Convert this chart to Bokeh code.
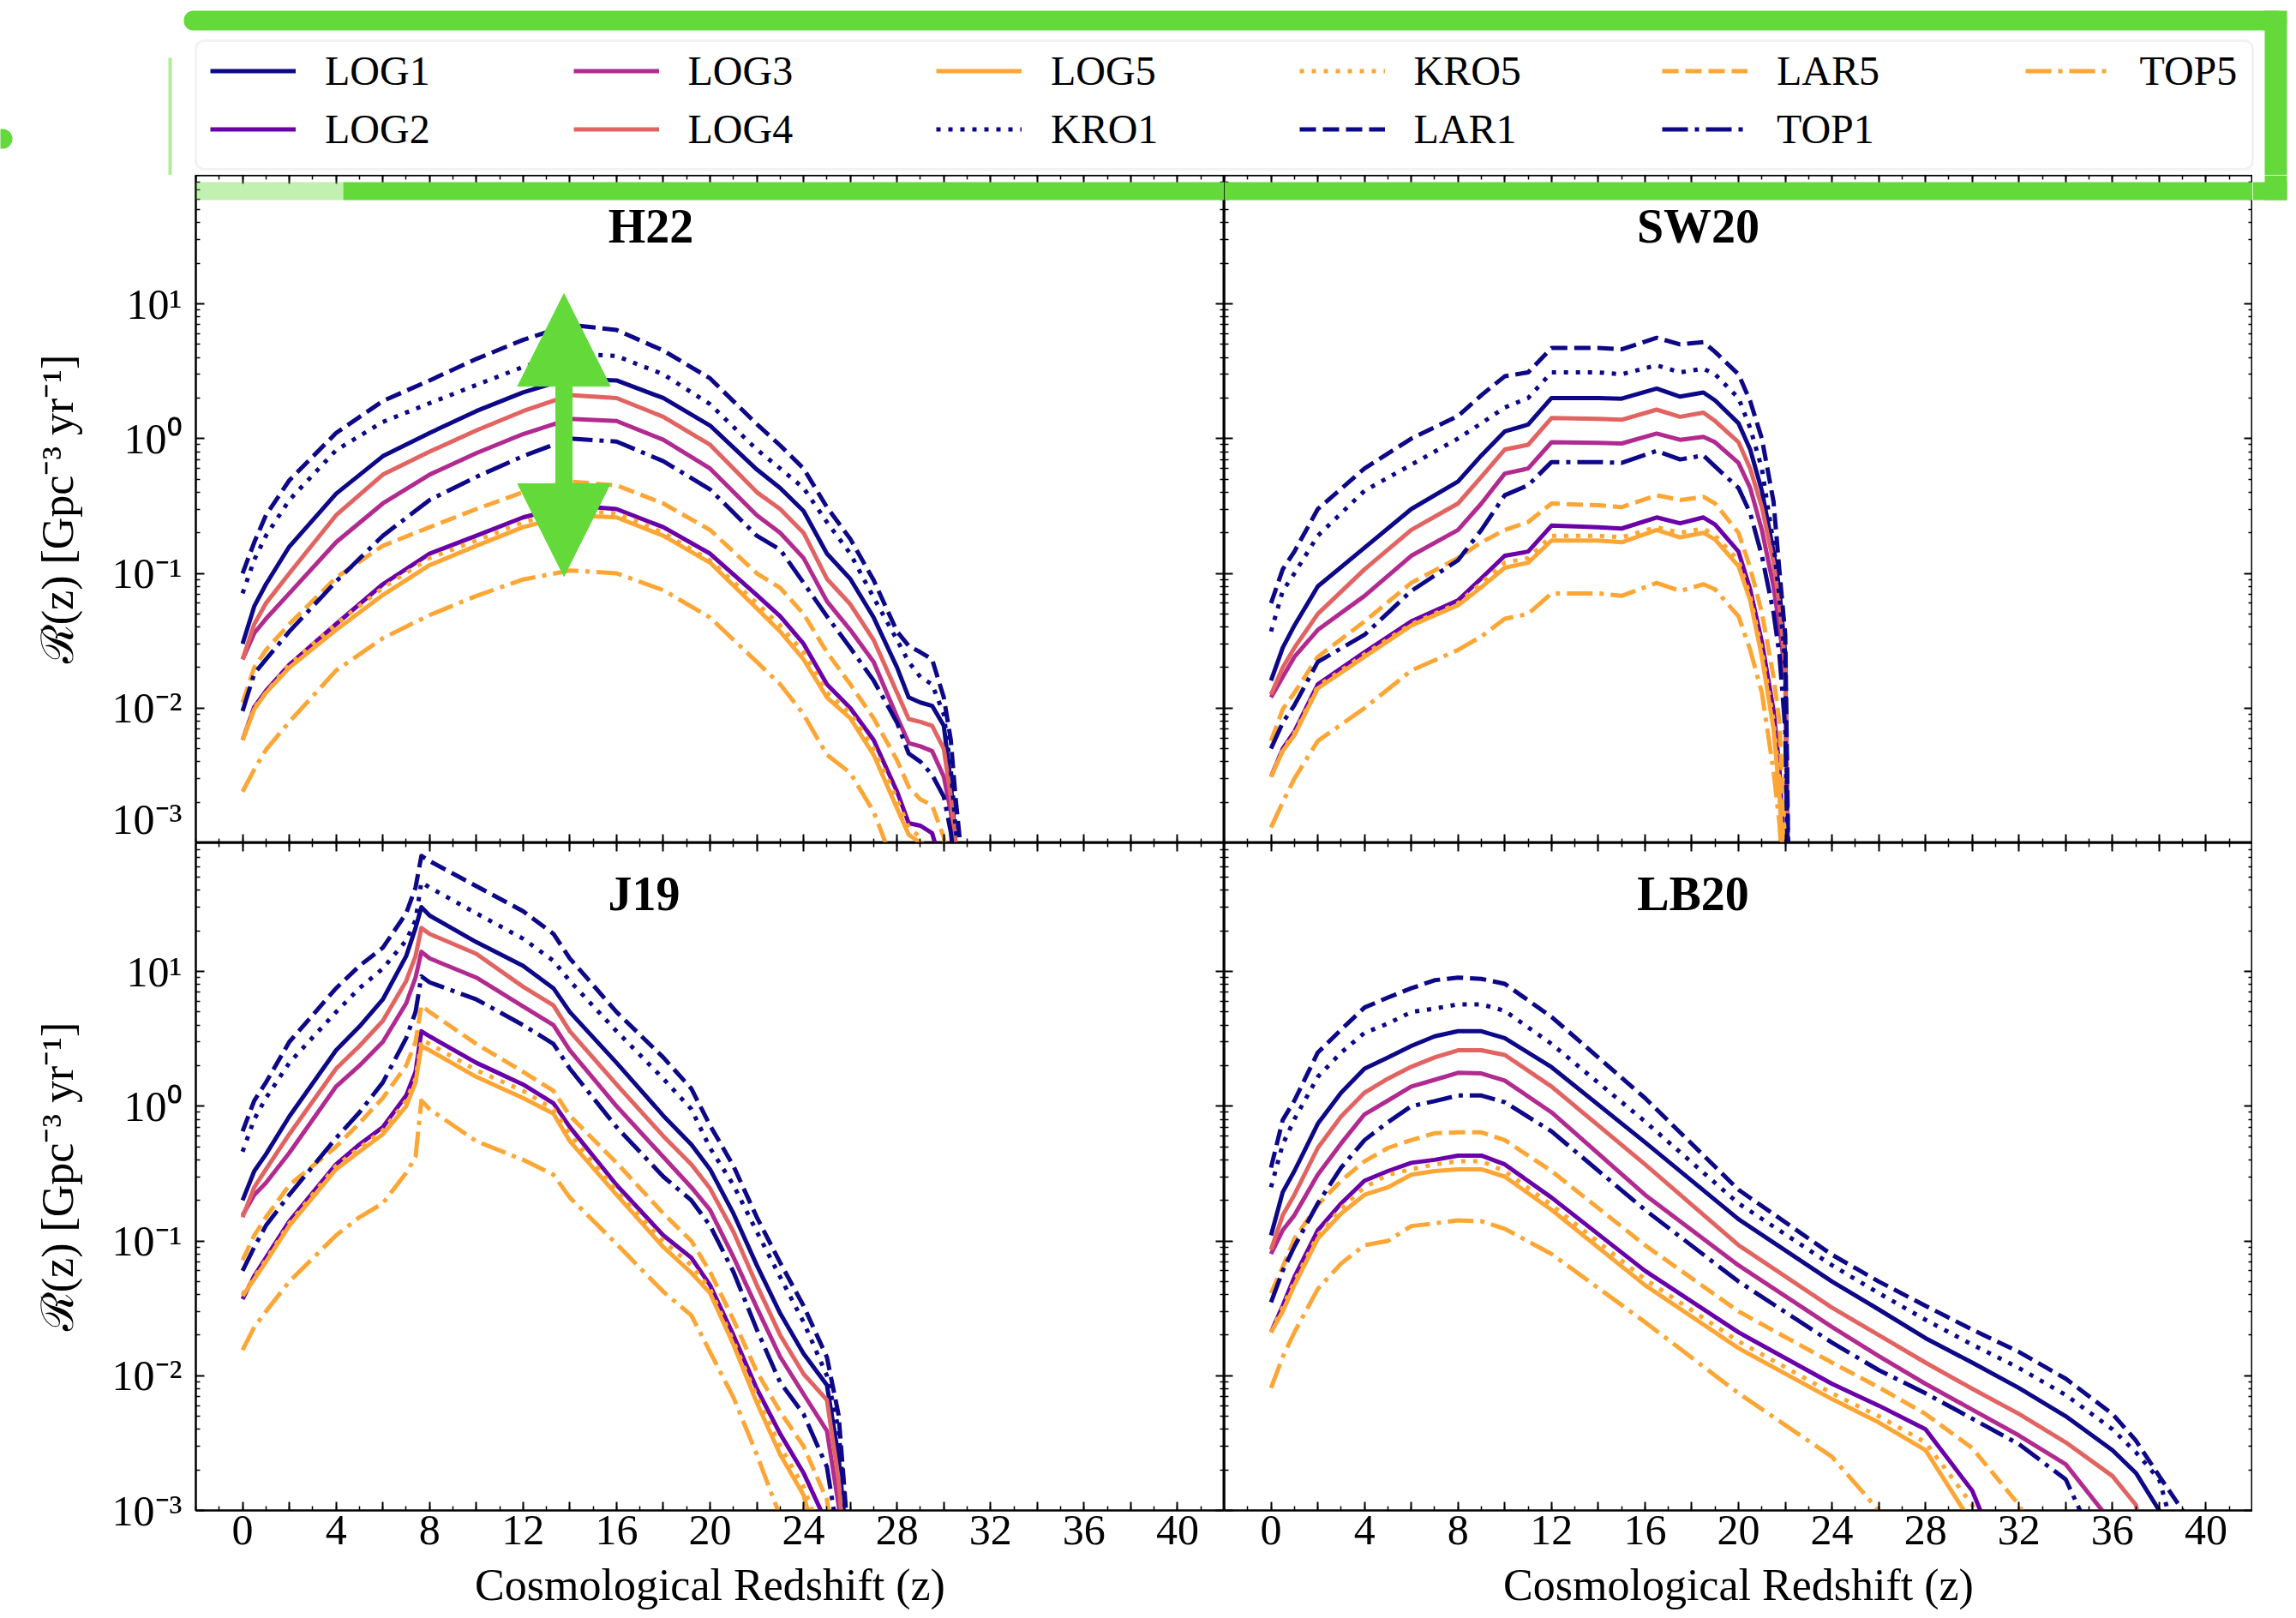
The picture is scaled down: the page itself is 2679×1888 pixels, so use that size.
from bokeh.plotting import figure
from bokeh.layouts import column, row
from bokeh.models import (Range1d, FixedTicker, CustomJSTickFormatter, LinearAxis, LogAxis,
                          Legend, LegendItem, BoxAnnotation, Label, Arrow, NormalHead)
from bokeh.embed import file_html
from bokeh.resources import INLINE

# ---------------------------------------------------------------- data
SERIES = ["LOG1", "LOG2", "LOG3", "LOG4", "LOG5", "KRO1", "KRO5", "LAR1", "LAR5", "TOP1", "TOP5"]

# H22
h22_z = [0, 0.5, 1, 2, 4, 6, 8, 10, 12, 14, 16, 18, 20, 22, 23, 24, 25, 26, 27, 28, 28.5, 29, 29.5, 30, 30.3, 30.5, 30.7, 30.9]
h22_LAR1 = [0.10, 0.17, 0.27, 0.49, 1.1, 1.9, 2.7, 3.9, 5.4, 7.0, 6.4, 4.5, 2.8, 1.28, 0.89, 0.60, 0.31, 0.18, 0.089, 0.037, 0.029, 0.026, 0.023, 0.012, 0.0058, 0.0022, 0.001, 0.0001]
h22_KRO1 = [0.071, 0.126, 0.19, 0.35, 0.82, 1.33, 1.83, 2.5, 3.4, 4.3, 4.1, 3.0, 1.8, 0.83, 0.60, 0.43, 0.24, 0.14, 0.066, 0.032, 0.022, 0.017, 0.015, 0.009, 0.0035, 0.00135, 0.0005, 0.0001]
h22_LOG1 = [0.030, 0.057, 0.083, 0.158, 0.39, 0.74, 1.10, 1.6, 2.2, 2.8, 2.7, 2.0, 1.25, 0.59, 0.43, 0.29, 0.14, 0.091, 0.047, 0.020, 0.012, 0.011, 0.0104, 0.0074, 0.0028, 0.001, 0.0002, 0.0001]
h22_LOG4 = [0.023, 0.042, 0.06, 0.10, 0.27, 0.54, 0.80, 1.15, 1.6, 2.1, 2.0, 1.45, 0.9, 0.40, 0.30, 0.20, 0.091, 0.059, 0.032, 0.013, 0.0083, 0.0079, 0.0074, 0.005, 0.0022, 0.001, 0.0002, 0.0001]
h22_LOG3 = [0.023, 0.036, 0.046, 0.071, 0.17, 0.33, 0.54, 0.78, 1.08, 1.4, 1.35, 0.98, 0.6, 0.27, 0.20, 0.13, 0.062, 0.038, 0.022, 0.0086, 0.0055, 0.0052, 0.0048, 0.0031, 0.0017, 0.0008, 0.0002, 0.0001]
h22_TOP1 = [0.0095, 0.018, 0.023, 0.037, 0.087, 0.19, 0.35, 0.52, 0.74, 1.0, 0.95, 0.68, 0.42, 0.19, 0.15, 0.085, 0.048, 0.028, 0.016, 0.0078, 0.0046, 0.004, 0.0032, 0.0022, 0.0012, 0.0006, 0.0002, 0.0001]
h22_LAR5 = [0.011, 0.020, 0.027, 0.042, 0.093, 0.16, 0.22, 0.30, 0.40, 0.48, 0.45, 0.33, 0.21, 0.10, 0.078, 0.050, 0.026, 0.015, 0.0084, 0.0041, 0.0026, 0.0021, 0.0019, 0.0011, 0.0004, 0.0002, 0.0001, 0.0001]
h22_LOG2 = [0.0058, 0.0102, 0.0134, 0.021, 0.042, 0.083, 0.14, 0.19, 0.26, 0.32, 0.30, 0.22, 0.14, 0.069, 0.048, 0.030, 0.015, 0.010, 0.0058, 0.0024, 0.0014, 0.00134, 0.00118, 0.0006, 0.0002, 0.0001, 0.0001, 0.0001]
h22_KRO5 = [0.0058, 0.010, 0.013, 0.021, 0.042, 0.078, 0.13, 0.175, 0.24, 0.29, 0.28, 0.20, 0.125, 0.060, 0.041, 0.026, 0.013, 0.0092, 0.005, 0.0021, 0.0013, 0.0011, 0.0006, 0.0002, 0.0001, 0.0001, 0.0001, 0.0001]
h22_LOG5 = [0.0058, 0.0098, 0.013, 0.020, 0.038, 0.069, 0.115, 0.16, 0.22, 0.27, 0.26, 0.19, 0.12, 0.055, 0.037, 0.023, 0.012, 0.0084, 0.0045, 0.0018, 0.00115, 0.0010, 0.0003, 0.0001, 0.0001, 0.0001, 0.0001, 0.0001]
h22_TOP5 = [0.0024, 0.0035, 0.0049, 0.0079, 0.019, 0.033, 0.049, 0.068, 0.09, 0.105, 0.10, 0.075, 0.047, 0.022, 0.015, 0.009, 0.0045, 0.0033, 0.0017, 0.0006, 0.0002, 0.0001, 0.0001, 0.0001, 0.0001, 0.0001, 0.0001, 0.0001]

# SW20
sw20_z = [0, 0.5, 1, 2, 4, 6, 8, 9, 10, 11, 12, 14, 15, 16.5, 17.5, 18.5, 19, 20, 20.5, 21, 21.5, 21.75, 22, 22.1, 22.2]
sw20_LAR1 = [0.06, 0.107, 0.145, 0.30, 0.60, 1.0, 1.47, 2.1, 2.9, 3.1, 4.7, 4.7, 4.6, 5.6, 5.0, 5.2, 4.4, 3.0, 1.9, 1.0, 0.34, 0.105, 0.035, 0.002, 0.0001]
sw20_KRO1 = [0.037, 0.074, 0.10, 0.19, 0.41, 0.64, 1.0, 1.3, 1.7, 2.0, 3.1, 3.1, 3.0, 3.5, 3.1, 3.3, 3.0, 2.0, 1.2, 0.60, 0.165, 0.066, 0.021, 0.0015, 0.0001]
sw20_LOG1 = [0.016, 0.028, 0.041, 0.080, 0.155, 0.30, 0.48, 0.75, 1.13, 1.27, 2.0, 2.0, 1.98, 2.35, 2.05, 2.2, 1.92, 1.30, 0.83, 0.41, 0.145, 0.075, 0.025, 0.001, 0.0001]
sw20_LOG4 = [0.0126, 0.020, 0.028, 0.050, 0.107, 0.21, 0.33, 0.52, 0.83, 0.90, 1.42, 1.40, 1.38, 1.64, 1.45, 1.56, 1.35, 0.94, 0.60, 0.31, 0.12, 0.059, 0.021, 0.001, 0.0001]
sw20_LOG3 = [0.012, 0.017, 0.024, 0.038, 0.068, 0.135, 0.21, 0.33, 0.55, 0.60, 0.94, 0.93, 0.92, 1.09, 0.98, 1.03, 0.94, 0.66, 0.43, 0.21, 0.08, 0.04, 0.018, 0.001, 0.0001]
sw20_TOP1 = [0.005, 0.0078, 0.0105, 0.022, 0.035, 0.074, 0.125, 0.21, 0.38, 0.45, 0.67, 0.67, 0.66, 0.81, 0.70, 0.75, 0.62, 0.43, 0.28, 0.135, 0.051, 0.025, 0.007, 0.0008, 0.0001]
sw20_LAR5 = [0.0057, 0.0098, 0.013, 0.024, 0.044, 0.085, 0.13, 0.17, 0.21, 0.24, 0.33, 0.32, 0.31, 0.38, 0.35, 0.37, 0.33, 0.20, 0.11, 0.051, 0.017, 0.0079, 0.0009, 0.0002, 0.0001]
sw20_LOG2 = [0.0031, 0.005, 0.0067, 0.015, 0.026, 0.044, 0.063, 0.092, 0.135, 0.145, 0.226, 0.22, 0.215, 0.26, 0.235, 0.26, 0.23, 0.145, 0.076, 0.031, 0.0096, 0.0036, 0.0006, 0.0001, 0.0001]
sw20_KRO5 = [0.0031, 0.0049, 0.0065, 0.0145, 0.025, 0.042, 0.060, 0.085, 0.12, 0.13, 0.19, 0.19, 0.185, 0.22, 0.20, 0.215, 0.19, 0.125, 0.068, 0.027, 0.008, 0.0029, 0.0005, 0.0001, 0.0001]
sw20_LOG5 = [0.0031, 0.0048, 0.0063, 0.014, 0.024, 0.041, 0.058, 0.079, 0.11, 0.12, 0.175, 0.175, 0.17, 0.21, 0.185, 0.20, 0.178, 0.113, 0.063, 0.024, 0.007, 0.0023, 0.0004, 0.0001, 0.0001]
sw20_TOP5 = [0.0013, 0.002, 0.003, 0.0057, 0.010, 0.019, 0.027, 0.034, 0.046, 0.05, 0.071, 0.071, 0.068, 0.085, 0.074, 0.083, 0.076, 0.048, 0.027, 0.013, 0.0034, 0.0014, 0.0003, 0.0001, 0.0001]

# J19
j19_z = [0, 0.5, 1, 2, 4, 5, 6, 7, 7.4, 7.65, 8, 10, 12, 13.3, 14, 16, 18, 19.2, 20, 21, 22, 23, 24, 25, 25.5, 25.8, 26]
j19_LAR1 = [0.65, 1.1, 1.5, 3.0, 7.5, 11, 15, 27, 42, 72, 66, 43, 28, 19, 12.5, 5.0, 2.3, 1.35, 0.72, 0.36, 0.15, 0.069, 0.033, 0.0137, 0.0051, 0.0011, 0.0001]
j19_KRO1 = [0.46, 0.8, 1.15, 2.1, 5.0, 7.5, 10.5, 17, 24, 46, 42, 27, 17.5, 12, 8.5, 3.6, 1.6, 0.95, 0.49, 0.26, 0.117, 0.054, 0.025, 0.010, 0.004, 0.0009, 0.0001]
j19_LOG1 = [0.20, 0.33, 0.44, 0.84, 2.6, 3.9, 6.2, 13, 21, 30, 26, 16.5, 11, 7.5, 5.0, 2.1, 0.85, 0.52, 0.34, 0.16, 0.066, 0.029, 0.0146, 0.0085, 0.0025, 0.0007, 0.0001]
j19_LOG4 = [0.15, 0.25, 0.34, 0.62, 1.9, 2.8, 4.3, 8.5, 13, 21, 19, 13.5, 7.7, 5.6, 3.6, 1.45, 0.6, 0.37, 0.245, 0.117, 0.047, 0.020, 0.0103, 0.0066, 0.0017, 0.0004, 0.0001]
j19_LOG3 = [0.155, 0.22, 0.27, 0.45, 1.4, 2.0, 3.0, 5.8, 9.0, 14, 12.5, 9.0, 5.5, 4.0, 2.6, 1.0, 0.42, 0.25, 0.17, 0.076, 0.032, 0.0138, 0.0073, 0.0039, 0.0011, 0.0002, 0.0001]
j19_TOP1 = [0.06, 0.09, 0.13, 0.22, 0.58, 0.9, 1.5, 3.2, 5.0, 9.2, 8.3, 6.2, 4.0, 2.9, 1.9, 0.7, 0.3, 0.2, 0.13, 0.059, 0.022, 0.0089, 0.0052, 0.0021, 0.0006, 0.0001, 0.0001]
j19_LAR5 = [0.072, 0.11, 0.15, 0.26, 0.5, 0.75, 1.15, 2.0, 3.0, 5.6, 5.0, 2.9, 1.8, 1.3, 0.85, 0.38, 0.16, 0.1, 0.059, 0.026, 0.0107, 0.0054, 0.003, 0.0012, 0.0003, 0.0001, 0.0001]
j19_LOG2 = [0.037, 0.055, 0.075, 0.14, 0.37, 0.52, 0.7, 1.2, 1.8, 3.6, 3.3, 2.1, 1.45, 1.05, 0.7, 0.26, 0.11, 0.075, 0.047, 0.020, 0.008, 0.0037, 0.0019, 0.0008, 0.0001, 0.0001, 0.0001]
j19_KRO5 = [0.04, 0.054, 0.072, 0.135, 0.36, 0.49, 0.66, 1.1, 1.6, 3.1, 2.9, 1.85, 1.3, 0.95, 0.62, 0.235, 0.1, 0.066, 0.044, 0.018, 0.007, 0.003, 0.0015, 0.0005, 0.0001, 0.0001, 0.0001]
j19_LOG5 = [0.039, 0.052, 0.07, 0.13, 0.34, 0.46, 0.62, 1.0, 1.5, 2.8, 2.6, 1.65, 1.15, 0.88, 0.55, 0.22, 0.09, 0.058, 0.041, 0.017, 0.0063, 0.0026, 0.0013, 0.0003, 0.0001, 0.0001, 0.0001]
j19_TOP5 = [0.0155, 0.023, 0.03, 0.05, 0.11, 0.15, 0.19, 0.32, 0.42, 1.1, 0.95, 0.55, 0.4, 0.31, 0.21, 0.095, 0.042, 0.028, 0.015, 0.0069, 0.0026, 0.0009, 0.0002, 0.0001, 0.0001, 0.0001, 0.0001]

# LB20
lb20_z = [0, 0.5, 1, 2, 3, 4, 5, 6, 7, 8, 9, 10, 12, 16, 20, 24, 26, 28, 30, 32, 34, 36, 37, 38, 39, 40]
lb20_LAR1 = [0.35, 0.79, 1.1, 2.5, 3.7, 5.4, 6.4, 7.5, 8.6, 9.0, 8.8, 8.1, 4.6, 1.15, 0.24, 0.079, 0.05, 0.033, 0.022, 0.015, 0.0095, 0.0052, 0.0033, 0.0018, 0.001, 0.0001]
lb20_KRO1 = [0.25, 0.52, 0.80, 1.65, 2.5, 3.5, 4.1, 5.0, 5.3, 5.7, 5.7, 5.1, 2.9, 0.77, 0.19, 0.066, 0.041, 0.026, 0.017, 0.0114, 0.0072, 0.004, 0.0027, 0.0017, 0.0004, 0.0001]
lb20_LOG1 = [0.11, 0.23, 0.33, 0.74, 1.26, 1.9, 2.3, 2.8, 3.3, 3.6, 3.6, 3.2, 1.95, 0.54, 0.145, 0.05, 0.031, 0.019, 0.0125, 0.0081, 0.005, 0.0028, 0.0019, 0.0010, 0.0002, 0.0001]
lb20_LOG4 = [0.086, 0.155, 0.22, 0.49, 0.84, 1.26, 1.6, 1.96, 2.3, 2.6, 2.6, 2.4, 1.4, 0.37, 0.093, 0.032, 0.02, 0.0125, 0.008, 0.0052, 0.0032, 0.0018, 0.0011, 0.0002, 0.0001, 0.0001]
lb20_LOG3 = [0.08, 0.12, 0.155, 0.31, 0.53, 0.87, 1.1, 1.4, 1.57, 1.77, 1.75, 1.55, 0.9, 0.22, 0.066, 0.023, 0.014, 0.0087, 0.0056, 0.0036, 0.0022, 0.0008, 0.0001, 0.0001, 0.0001, 0.0001]
lb20_TOP1 = [0.035, 0.06, 0.091, 0.19, 0.35, 0.56, 0.76, 1.0, 1.09, 1.2, 1.2, 1.07, 0.65, 0.17, 0.05, 0.0176, 0.011, 0.0074, 0.0048, 0.0031, 0.0017, 0.0003, 0.0001, 0.0001, 0.0001, 0.0001]
lb20_LAR5 = [0.041, 0.064, 0.104, 0.185, 0.28, 0.39, 0.49, 0.56, 0.63, 0.64, 0.64, 0.56, 0.33, 0.093, 0.030, 0.0125, 0.0082, 0.0052, 0.0029, 0.0011, 0.0002, 0.0001, 0.0001, 0.0001, 0.0001, 0.0001]
lb20_LOG2 = [0.021, 0.033, 0.054, 0.12, 0.19, 0.28, 0.33, 0.38, 0.40, 0.43, 0.43, 0.37, 0.21, 0.06, 0.021, 0.0087, 0.006, 0.004, 0.0014, 0.0002, 0.0001, 0.0001, 0.0001, 0.0001, 0.0001, 0.0001]
lb20_KRO5 = [0.021, 0.032, 0.05, 0.11, 0.175, 0.25, 0.31, 0.34, 0.37, 0.39, 0.39, 0.33, 0.185, 0.052, 0.018, 0.0074, 0.005, 0.0032, 0.0011, 0.0002, 0.0001, 0.0001, 0.0001, 0.0001, 0.0001, 0.0001]
lb20_LOG5 = [0.021, 0.030, 0.047, 0.104, 0.16, 0.22, 0.25, 0.31, 0.33, 0.34, 0.34, 0.30, 0.17, 0.047, 0.016, 0.0067, 0.0045, 0.0028, 0.0008, 0.0001, 0.0001, 0.0001, 0.0001, 0.0001, 0.0001, 0.0001]
lb20_TOP5 = [0.0081, 0.0138, 0.021, 0.044, 0.068, 0.093, 0.10, 0.129, 0.135, 0.142, 0.14, 0.123, 0.08, 0.025, 0.0074, 0.0025, 0.0010, 0.0002, 0.0001, 0.0001, 0.0001, 0.0001, 0.0001, 0.0001, 0.0001, 0.0001]

x_tick_values = list(range(0, 41, 2))
y_tick_values = [1e-3, 1e-2, 1e-1, 1, 10]

# ---------------------------------------------------------------- style
COLORS = {"LOG1": "#0d0887", "LOG2": "#6a00a8", "LOG3": "#b12a90", "LOG4": "#e16462",
          "LOG5": "#fca636", "KRO1": "#0d0887", "KRO5": "#fca636", "LAR1": "#0d0887",
          "LAR5": "#fca636", "TOP1": "#0d0887", "TOP5": "#fca636"}
DASHES = {"LOG": "solid", "KRO": "5 9", "LAR": "19 8", "TOP": "30 8 5 8"}
LW = 5
FONT = "Liberation Serif"
GREEN = "#63d93a"


def panel_data(prefix):
    g = globals()
    z = g[prefix + "_z"]
    data = {s: g[prefix + "_" + s] for s in SERIES}
    for s, v in data.items():
        assert len(v) == len(z), (prefix, s, len(v), len(z))
    return z, data


y_fmt = CustomJSTickFormatter(code="""
const e = Math.round(Math.log10(tick));
const sup = {"-": "\u207b", "0": "\u2070", "1": "\u00b9", "2": "\u00b2", "3": "\u00b3",
             "4": "\u2074", "5": "\u2075", "6": "\u2076", "7": "\u2077", "8": "\u2078", "9": "\u2079"};
return "10" + String(e).split("").map(c => sup[c]).join("");
""")
x_fmt = CustomJSTickFormatter(code="""
const v = Math.round(tick);
return (v % 4 === 0) ? String(v) : "";
""")

y_minor = [k * 10.0 ** e for e in range(-3, 2) for k in range(2, 10) if k * 10.0 ** e <= 90]
x_minor = list(range(-2, 43))


def style_axis(ax, is_x, show_labels, label=None):
    ax.ticker = FixedTicker(ticks=x_tick_values if is_x else y_tick_values,
                            minor_ticks=x_minor if is_x else y_minor)
    ax.formatter = x_fmt if is_x else y_fmt
    ax.axis_line_width = 2
    ax.axis_line_color = "black"
    ax.major_tick_line_width = 2
    ax.minor_tick_line_width = 1.5
    ax.major_tick_in = 10
    ax.major_tick_out = 0
    ax.minor_tick_in = 5
    ax.minor_tick_out = 0
    if show_labels:
        ax.major_label_text_font = FONT
        ax.major_label_text_font_size = "50px"
        ax.major_label_text_color = "black"
        ax.major_label_standoff = 6 if is_x else 16
    else:
        ax.major_label_text_font_size = "0px"
        ax.major_label_standoff = 0
    if label is not None:
        ax.axis_label = label
        ax.axis_label_text_font = FONT
        ax.axis_label_text_font_size = "52px"
        ax.axis_label_text_font_style = "normal"
        ax.axis_label_text_color = "black"
        ax.axis_label_standoff = 16 if is_x else 32
    else:
        ax.axis_label = None


def make_panel(prefix, title, col, rw, title_x):
    z, data = panel_data(prefix)
    p = figure(frame_width=1200, frame_height=779,
               x_range=Range1d(-2, 42), y_range=Range1d(1e-3, 90), y_axis_type="log",
               output_backend="svg", toolbar_location=None,
               min_border_left=228 if col == 0 else 0, min_border_right=0,
               min_border_top=0, min_border_bottom=126 if rw == 1 else 0,
               background_fill_color="white", border_fill_color="white")
    p.xgrid.visible = False
    p.ygrid.visible = False
    p.outline_line_color = "black"
    p.outline_line_width = 2
    style_axis(p.xaxis[0], True, rw == 1,
               "Cosmological Redshift (z)" if rw == 1 else None)
    style_axis(p.yaxis[0], False, col == 0,
               "\u211b(z) [Gpc\u207b\u00b3 yr\u207b\u00b9]" if col == 0 else None)
    top = LinearAxis()
    style_axis(top, True, False)
    p.add_layout(top, "above")
    right = LogAxis()
    style_axis(right, False, False)
    p.add_layout(right, "right")

    for s in SERIES:
        p.line(z, data[s], line_color=COLORS[s], line_width=LW,
               line_dash=DASHES[s[:3]], line_join="round")

    p.add_layout(Label(x=title_x, y=720, x_units="screen", y_units="screen", text=title,
                       text_font=FONT, text_font_style="bold", text_font_size="56px",
                       text_align="center", text_baseline="middle", text_color="black"))
    return p


tl = make_panel("h22", "H22", 0, 0, 531)
tr = make_panel("sw20", "SW20", 1, 0, 553)
bl = make_panel("j19", "J19", 0, 1, 523)
br = make_panel("lb20", "LB20", 1, 1, 547)

# hand-drawn green arrow in H22
tl.add_layout(Arrow(start=NormalHead(size=108, fill_color=GREEN, line_color=GREEN),
                    end=NormalHead(size=108, fill_color=GREEN, line_color=GREEN),
                    x_start=13.75, y_start=0.095, x_end=13.75, y_end=11.9,
                    line_color=GREEN, line_width=20))


def gbox(p, l, r, t, b, alpha=1.0, radius=0, units="screen"):
    p.add_layout(BoxAnnotation(left=l, right=r, top=t, bottom=b,
                               left_units=units, right_units=units,
                               top_units=units, bottom_units=units,
                               fill_color=GREEN, fill_alpha=alpha, line_color=None,
                               border_radius=radius, level="overlay"))


# green marker stroke overlapping the top of the upper panels
gbox(tl, 0, 172, 771, 750, 0.4)
gbox(tl, 172, 1200, 771, 750)
gbox(tr, 0, 1200, 771, 750)


def spacer(h):
    s = figure(width=51, height=h, x_range=Range1d(0, 51), y_range=Range1d(0, h),
               output_backend="svg", toolbar_location=None, min_border=0,
               x_axis_type=None, y_axis_type=None, outline_line_color=None,
               background_fill_color="white", border_fill_color="white")
    s.grid.visible = False
    return s


sp_top = spacer(779)
gbox(sp_top, 0, 40, 771, 750, units="data")
gbox(sp_top, 14, 40, 779, 750, units="data")
sp_bot = spacer(905)

# ---------------------------------------------------------------- legend strip
lf = figure(width=2679, height=204, x_range=Range1d(0, 2679), y_range=Range1d(0, 204),
            output_backend="svg", toolbar_location=None, min_border=0,
            x_axis_type=None, y_axis_type=None, outline_line_color=None,
            background_fill_color="white", border_fill_color="white")
lf.grid.visible = False

lf.add_layout(BoxAnnotation(left=228, right=2628, top=157, bottom=7,
                            fill_color="white", fill_alpha=1.0,
                            line_color="#d3d3d3", line_width=3, border_radius=10,
                            level="underlay"))

renderers = {}
for s in SERIES:
    # off-screen proxy renderers that only provide the legend samples
    renderers[s] = lf.line(x=[-100, -90], y=[-100, -100], line_color=COLORS[s],
                           line_width=LW, line_dash=DASHES[s[:3]])

columns = [SERIES[i:i + 2] for i in range(0, len(SERIES), 2)]
for ci, names in enumerate(columns):
    items = [LegendItem(label=n, renderers=[renderers[n]]) for n in names]
    yloc = 26.5 if len(names) == 2 else 94.5
    leg = Legend(items=items, location=(245 + ci * 423.5, yloc), orientation="vertical",
                 glyph_width=100, glyph_height=55, label_height=55, label_standoff=34,
                 spacing=13, padding=0, margin=0,
                 label_text_font=FONT, label_text_font_size="48px", label_text_color="black",
                 border_line_alpha=0, background_fill_alpha=0)
    lf.add_layout(leg)

# green marker around the legend
for (l, r, t, b, a, rad) in [(214, 2668, 192, 169, 1.0, 11), (2642, 2668, 192, 0, 1.0, 0),
                             (196, 200, 137, 0, 0.5, 0), (-14, 14, 54, 31, 1.0, 12)]:
    gbox(lf, l, r, t, b, a, rad, units="data")

layout = column(lf, row(tl, tr, sp_top), row(bl, br, sp_bot))
open("out.html", "w").write(file_html(layout, INLINE))
